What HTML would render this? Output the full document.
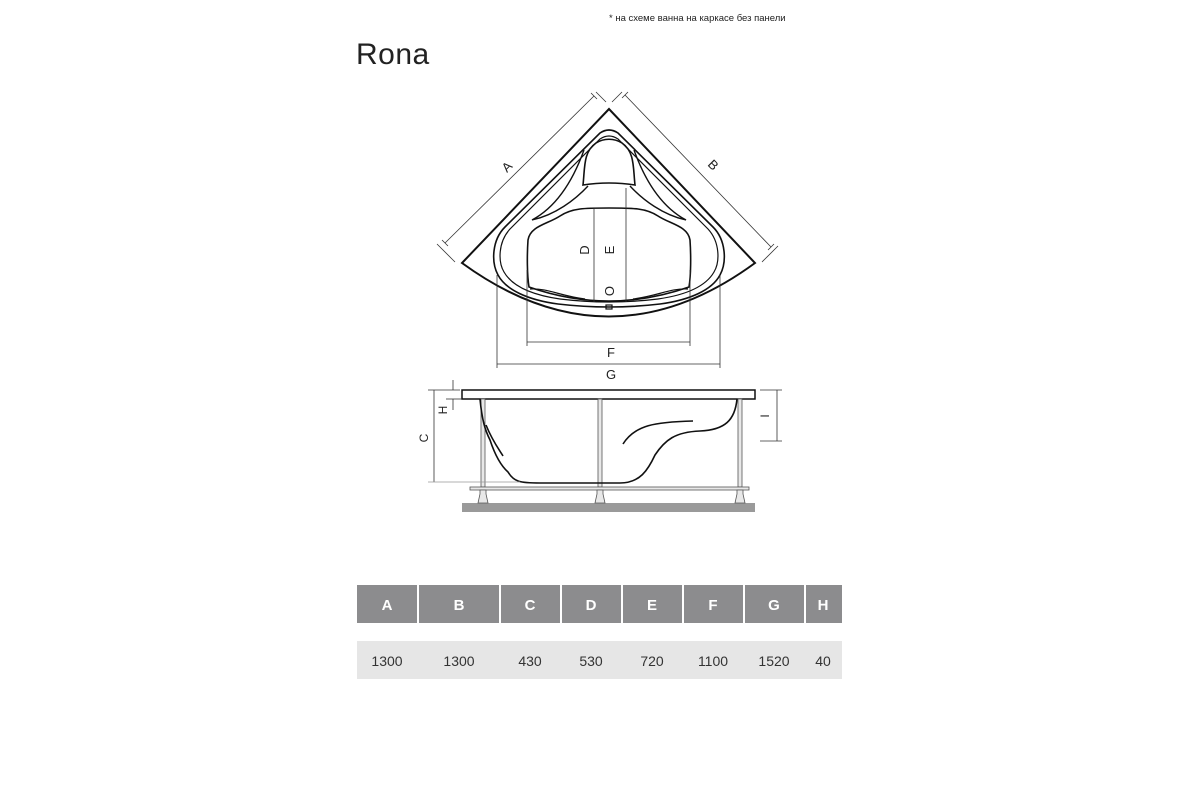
<!DOCTYPE html>
<html><head><meta charset="utf-8"><style>
html,body{margin:0;padding:0;background:#fff;width:1200px;height:800px;overflow:hidden}
svg{display:block}
text{font-family:"Liberation Sans",sans-serif}
</style></head><body>
<svg width="1200" height="800" viewBox="0 0 1200 800" xmlns="http://www.w3.org/2000/svg">
<text x="609" y="21" font-size="9.5" fill="#222">* на схеме ванна на каркасе без панели</text>
<text x="356" y="64" font-size="30" fill="#222" letter-spacing="0.5">Rona</text>

<!-- top view -->
<g fill="none" stroke="#111" stroke-width="2">
<path d="M609,109 L462,263 Q609,370 755,263 Z"/>
<path d="M600,133 Q609,127 618,133 L713,227 C726,240 727,262 720,275 C712,290 690,300 660,304 Q609,310 558,304 C528,300 506,290 498,275 C491,262 492,240 505,227 Z" stroke-width="1.6"/>
<path d="M600,139 Q609,133 618,139 L708,229 C720,242 720,262 714,272 C706,286 686,295 658,299 Q609,305 560,299 C532,295 512,286 504,272 C498,262 498,242 510,229 Z" stroke-width="1.2"/>
<path d="M583,185 C585,168 583,152 596,143 C604,138 614,138 622,143 C635,152 633,168 635,185 Q609,181 583,185 Z" stroke-width="1.6"/>
<path d="M584,150 C575,175 560,205 532,220 C555,215 575,200 588,186" stroke-width="1.4"/>
<path d="M634,150 C643,175 658,205 686,220 C663,215 643,200 630,186" stroke-width="1.4"/>
<path d="M609,208 C585,208 572,208 560,216 C548,224 530,226 528,240 C527,255 527,275 529,287 Q609,315 689,287 C691,275 691,255 690,240 C688,226 670,224 658,216 C646,208 633,208 609,208 Z" stroke-width="1.6"/>
<path d="M530,289 C548,288 560,296 585,299" stroke-width="1.2"/>
<path d="M688,289 C670,288 658,296 633,299" stroke-width="1.2"/>
<rect x="606" y="305" width="6" height="4" stroke-width="1.2"/>
</g>
<g stroke="#333" stroke-width="0.8" fill="none">
<line x1="445" y1="243" x2="594" y2="96"/><line x1="442" y1="240" x2="448" y2="246"/><line x1="591" y1="93" x2="597" y2="99"/>
<line x1="437" y1="244" x2="455" y2="262"/><line x1="596" y1="92" x2="606" y2="102"/>
<line x1="625" y1="95" x2="771" y2="247"/><line x1="622" y1="98" x2="628" y2="92"/><line x1="768" y1="250" x2="774" y2="244"/>
<line x1="612" y1="102" x2="622" y2="92"/><line x1="762" y1="262" x2="778" y2="246"/>
<line x1="594" y1="209" x2="594" y2="302"/>
<line x1="626" y1="188" x2="626" y2="302"/>
<line x1="527" y1="270" x2="527" y2="346"/><line x1="690" y1="270" x2="690" y2="346"/>
<line x1="527" y1="342" x2="690" y2="342"/>
<line x1="497" y1="275" x2="497" y2="368"/><line x1="720" y1="275" x2="720" y2="368"/>
<line x1="497" y1="364" x2="720" y2="364"/>
</g>
<g font-size="13" fill="#222" text-anchor="middle">
<text x="0" y="0" transform="translate(510,170) rotate(-45)">A</text>
<text x="0" y="0" transform="translate(710,168) rotate(45)">B</text>
<text x="0" y="0" transform="translate(589,250) rotate(-90)">D</text>
<text x="0" y="0" transform="translate(614,250) rotate(-90)">E</text>
<text x="0" y="0" transform="translate(614,291) rotate(-90)">O</text>
<text x="611" y="357">F</text>
<text x="611" y="379">G</text>
</g>

<!-- side view -->
<rect x="462" y="503" width="293" height="9" fill="#9a9a9a"/>
<rect x="462" y="390" width="293" height="9" fill="#fff" stroke="#111" stroke-width="1.5"/>
<g fill="#e8e8e8" stroke="#555" stroke-width="0.8">
<rect x="481" y="399" width="4" height="88"/>
<rect x="598" y="399" width="4" height="88"/>
<rect x="738" y="399" width="4" height="88"/>
<rect x="470" y="487" width="279" height="3"/>
<path d="M480,490 h6 v4 l2,9 h-10 l2,-9 z"/>
<path d="M597,490 h6 v4 l2,9 h-10 l2,-9 z"/>
<path d="M737,490 h6 v4 l2,9 h-10 l2,-9 z"/>
</g>
<g fill="none" stroke="#111" stroke-width="1.6">
<path d="M480,399 C482,420 485,430 490,440 C494,452 500,465 508,472 C514,482 520,483 540,483 L620,483 C640,483 648,470 655,455 C665,440 675,432 700,431 C725,430 735,420 737,399"/>
<path d="M486,425 C492,440 498,448 503,456"/>
<path d="M623,444 C635,425 655,422 693,421"/>
</g>
<g stroke="#333" stroke-width="0.8" fill="none">
<line x1="428" y1="390" x2="460" y2="390"/>
<line x1="434" y1="390" x2="434" y2="482"/>
<line x1="428" y1="482" x2="520" y2="482" stroke="#999"/>
<line x1="453" y1="380" x2="453" y2="390"/><line x1="453" y1="399" x2="453" y2="410"/>
<line x1="446" y1="399" x2="462" y2="399"/>
<line x1="760" y1="390" x2="782" y2="390"/><line x1="760" y1="441" x2="782" y2="441"/>
<line x1="777" y1="390" x2="777" y2="441"/>
</g>
<g font-size="12" fill="#222" text-anchor="middle">
<text transform="translate(428,438) rotate(-90)">C</text>
<text transform="translate(447,410) rotate(-90)">H</text>
<text transform="translate(769,416) rotate(-90)">I</text>
</g>

<!-- table -->
<g fill="#8c8c8e">
<rect x="357" y="585" width="60" height="38"/>
<rect x="419" y="585" width="80" height="38"/>
<rect x="501" y="585" width="59" height="38"/>
<rect x="562" y="585" width="59" height="38"/>
<rect x="623" y="585" width="59" height="38"/>
<rect x="684" y="585" width="59" height="38"/>
<rect x="745" y="585" width="59" height="38"/>
<rect x="806" y="585" width="36" height="38"/>
</g>
<rect x="357" y="641" width="485" height="38" fill="#e6e6e6"/>
<g font-size="15" font-weight="bold" fill="#fff" text-anchor="middle">
<text x="387" y="610">A</text><text x="459" y="610">B</text><text x="530" y="610">C</text><text x="591" y="610">D</text>
<text x="652" y="610">E</text><text x="713" y="610">F</text><text x="774" y="610">G</text><text x="823" y="610">H</text>
</g>
<g font-size="14" fill="#333" text-anchor="middle">
<text x="387" y="666">1300</text><text x="459" y="666">1300</text><text x="530" y="666">430</text><text x="591" y="666">530</text>
<text x="652" y="666">720</text><text x="713" y="666">1100</text><text x="774" y="666">1520</text><text x="823" y="666">40</text>
</g>
</svg>
</body></html>
